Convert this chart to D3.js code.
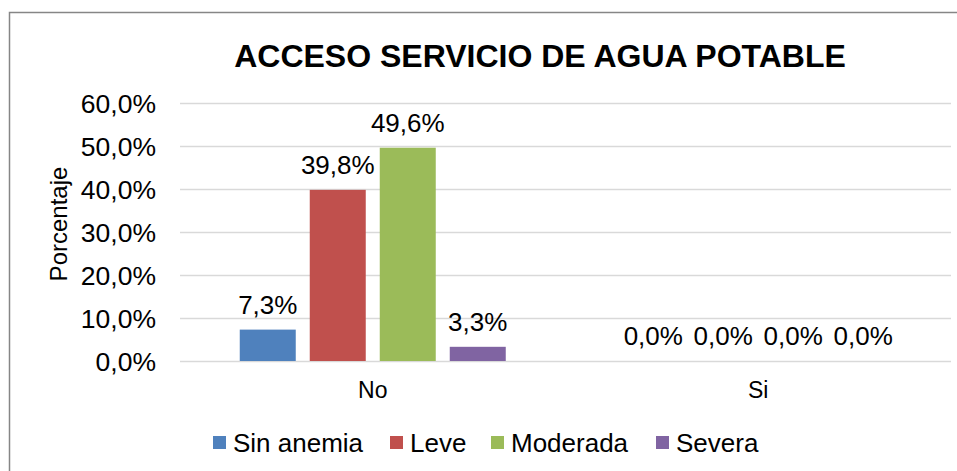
<!DOCTYPE html>
<html>
<head>
<meta charset="utf-8">
<script src="https://cdn.jsdelivr.net/npm/d3@7"></script>
<style>
  body { margin: 0; background: #fff; }
  text { font-family: "Liberation Sans", Arial, sans-serif; fill: #000; }
</style>
</head>
<body>
<script>
var categories = ["No", "Si"];
var seriesNames = ["Sin anemia", "Leve", "Moderada", "Severa"];
var sinAnemia = [7.3, 0.0];
var leve = [39.8, 0.0];
var moderada = [49.6, 0.0];
var severa = [3.3, 0.0];
var yTicks = [0, 10, 20, 30, 40, 50, 60];
var colors = ["#4F81BD", "#C0504D", "#9BBB59", "#8064A2"];

var seriesValues = [sinAnemia, leve, moderada, severa];

var width = 957, height = 471;
var margin = { top: 103, right: 6, bottom: 110, left: 180 };

var pct = function (d) { return d3.format(".1f")(d).replace(".", ",") + "%"; };

var svg = d3.select("body").append("svg")
    .attr("width", width)
    .attr("height", height);

// chart border (runs off right and bottom edges)
svg.append("rect")
    .attr("x", 9.5).attr("y", 12.5)
    .attr("width", width + 10).attr("height", height + 10)
    .attr("fill", "none")
    .attr("stroke", "#868686")
    .attr("stroke-width", 1.5);

var x0 = d3.scaleBand()
    .domain(categories)
    .range([margin.left, width - margin.right]);

var x1 = d3.scaleBand()
    .domain(seriesNames)
    .range([0, 266])
    .paddingInner(0.2);

var y = d3.scaleLinear()
    .domain([0, 60])
    .range([height - margin.bottom, margin.top]);

// gridlines
svg.append("g").selectAll("line")
    .data(yTicks)
    .enter().append("line")
    .attr("x1", margin.left).attr("x2", width - margin.right)
    .attr("y1", function (d) { return y(d) + 0.5; })
    .attr("y2", function (d) { return y(d) + 0.5; })
    .attr("stroke", "#D9D9D9")
    .attr("stroke-width", 1.5);

// y axis labels
var yAxis = d3.axisLeft(y)
    .tickValues(yTicks)
    .tickSize(0)
    .tickPadding(24)
    .tickFormat(pct);

svg.append("g")
    .attr("transform", "translate(" + margin.left + ",0)")
    .call(yAxis)
    .call(function (g) { g.select(".domain").remove(); })
    .selectAll("text")
    .attr("dy", "0.36em")
    .style("font-size", "26.5px")
    .style("font-family", "Liberation Sans, Arial, sans-serif");

// x axis labels
var xAxis = d3.axisBottom(x0).tickSize(0).tickPadding(21);
svg.append("g")
    .attr("transform", "translate(0," + y(0) + ")")
    .call(xAxis)
    .call(function (g) { g.select(".domain").remove(); })
    .selectAll("text")
    .style("font-size", "23px")
    .style("font-family", "Liberation Sans, Arial, sans-serif");

// bars
var groups = svg.append("g").selectAll("g")
    .data(categories)
    .enter().append("g")
    .attr("transform", function (d) {
        return "translate(" + (x0(d) + x0.bandwidth() / 2 - 133) + ",0)";
    });

var cellData = function (c, ci) {
    return seriesNames.map(function (s, si) { return { s: s, si: si, v: seriesValues[si][ci] }; });
};

groups.selectAll("rect")
    .data(cellData)
    .enter().append("rect")
    .attr("x", function (d) { return x1(d.s); })
    .attr("width", x1.bandwidth())
    .attr("y", function (d) { return y(d.v); })
    .attr("height", function (d) { return y(0) - y(d.v); })
    .attr("fill", function (d) { return colors[d.si]; });

groups.selectAll("text")
    .data(cellData)
    .enter().append("text")
    .attr("x", function (d) { return x1(d.s) + x1.bandwidth() / 2; })
    .attr("y", function (d) { return y(d.v) - 16; })
    .attr("text-anchor", "middle")
    .style("font-size", "26px")
    .text(function (d) { return pct(d.v); });

// title
svg.append("text")
    .attr("x", 540).attr("y", 67)
    .attr("text-anchor", "middle")
    .style("font-size", "32px")
    .style("font-weight", "bold")
    .text("ACCESO SERVICIO DE AGUA POTABLE");

// y axis title
svg.append("text")
    .attr("transform", "translate(67,224) rotate(-90)")
    .attr("text-anchor", "middle")
    .style("font-size", "24px")
    .text("Porcentaje");

// legend
var legendX = [213, 390, 491, 656];
var legend = svg.append("g").selectAll("g")
    .data(seriesNames)
    .enter().append("g")
    .attr("transform", function (d, i) { return "translate(" + legendX[i] + ",436)"; });

legend.append("rect")
    .attr("width", 13).attr("height", 13)
    .attr("fill", function (d, i) { return colors[i]; });

legend.append("text")
    .attr("x", 20).attr("y", 16)
    .style("font-size", "26px")
    .text(function (d) { return d; });
</script>
</body>
</html>
